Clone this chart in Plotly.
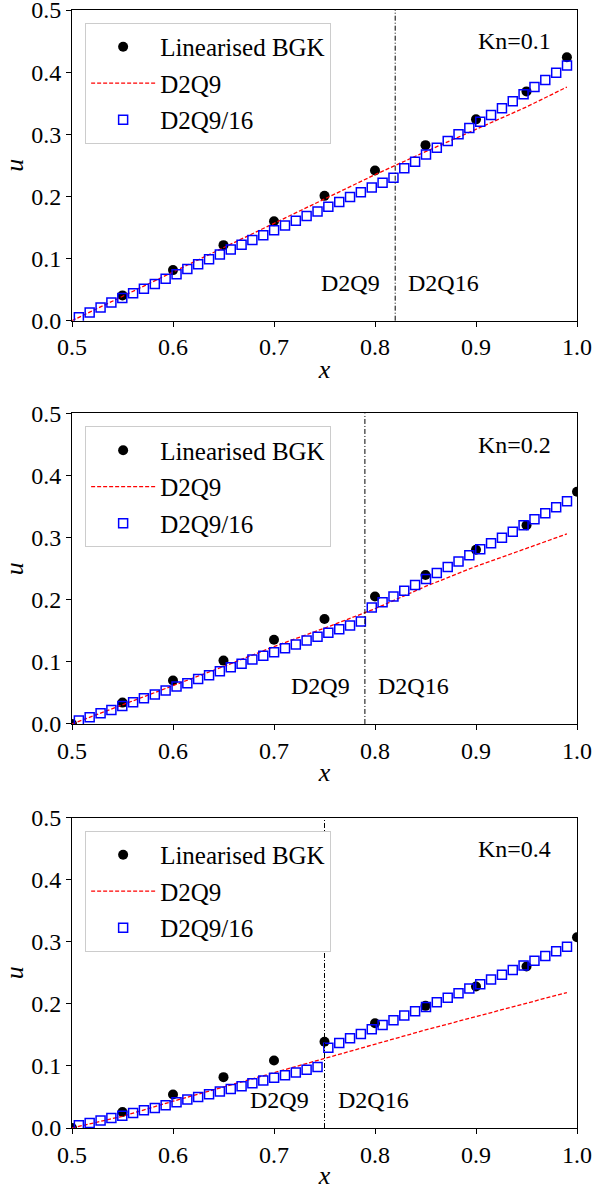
import plotly.graph_objects as go

# ---------------- data ----------------
x_grid = [0.5068, 0.5175, 0.5283, 0.5390, 0.5498, 0.5605, 0.5712, 0.5820, 0.5927, 0.6035,
          0.6142, 0.6249, 0.6357, 0.6464, 0.6572, 0.6679, 0.6786, 0.6894, 0.7001, 0.7109,
          0.7216, 0.7323, 0.7431, 0.7538, 0.7646, 0.7753, 0.7860, 0.7968, 0.8075, 0.8183,
          0.8290, 0.8397, 0.8505, 0.8612, 0.8720, 0.8827, 0.8934, 0.9042, 0.9149, 0.9257,
          0.9364, 0.9471, 0.9579, 0.9686, 0.9794, 0.9901]

u_d2q916_kn01 = [0.0054, 0.0130, 0.0212, 0.0293, 0.0364, 0.0440, 0.0516, 0.0592, 0.0673, 0.0749,
                 0.0831, 0.0907, 0.0988, 0.1064, 0.1145, 0.1221, 0.1298, 0.1374, 0.1455, 0.1531,
                 0.1607, 0.1683, 0.1759, 0.1835, 0.1911, 0.1992, 0.2068, 0.2144, 0.2220, 0.2302,
                 0.2454, 0.2557, 0.2675, 0.2785, 0.2890, 0.3000, 0.3100, 0.3200, 0.3310, 0.3420,
                 0.3530, 0.3645, 0.3760, 0.3875, 0.3990, 0.4105]
u_d2q916_kn02 = [0.0054, 0.0108, 0.0172, 0.0226, 0.0290, 0.0349, 0.0414, 0.0473, 0.0538, 0.0602,
                 0.0656, 0.0726, 0.0785, 0.0849, 0.0914, 0.0968, 0.1038, 0.1097, 0.1156, 0.1220,
                 0.1280, 0.1344, 0.1403, 0.1468, 0.1527, 0.1586, 0.1650, 0.1876, 0.1962, 0.2054,
                 0.2145, 0.2237, 0.2333, 0.2430, 0.2527, 0.2618, 0.2715, 0.2812, 0.2909, 0.3000,
                 0.3097, 0.3199, 0.3296, 0.3392, 0.3489, 0.3586]
u_d2q916_kn04 = [0.0043, 0.0081, 0.0119, 0.0162, 0.0199, 0.0242, 0.0286, 0.0323, 0.0366, 0.0415,
                 0.0458, 0.0501, 0.0544, 0.0587, 0.0630, 0.0673, 0.0722, 0.0765, 0.0808, 0.0851,
                 0.0894, 0.0938, 0.0981, 0.1293, 0.1369, 0.1444, 0.1514, 0.1589, 0.1659, 0.1735,
                 0.1810, 0.1880, 0.1950, 0.2026, 0.2096, 0.2171, 0.2247, 0.2317, 0.2392, 0.2468,
                 0.2543, 0.2619, 0.2694, 0.2769, 0.2845, 0.2920]

x_bgk_kn01 = [0.55, 0.60, 0.65, 0.70, 0.75, 0.80, 0.85, 0.90, 0.95, 0.99]
u_bgk_kn01 = [0.0407, 0.0814, 0.1216, 0.1601, 0.2009, 0.2416, 0.2825, 0.3240, 0.3690, 0.4240]
x_bgk = [0.50, 0.55, 0.60, 0.65, 0.70, 0.75, 0.80, 0.85, 0.90, 0.95, 1.00]
u_bgk_kn02 = [0.0, 0.0344, 0.0699, 0.1020, 0.1355, 0.1690, 0.2054, 0.2400, 0.2806, 0.3200, 0.3740]
u_bgk_kn04 = [0.0, 0.0259, 0.0539, 0.0819, 0.1088, 0.1390, 0.1687, 0.1967, 0.2279, 0.2602, 0.3071]

x_d2q9 = [0.50, 0.55, 0.60, 0.65, 0.70, 0.75, 0.80, 0.85, 0.90, 0.95, 0.99]
u_d2q9_kn01 = [0.0, 0.0390, 0.0780, 0.1170, 0.1560, 0.1960, 0.2350, 0.2720, 0.3080, 0.3440, 0.3760]
u_d2q9_kn02 = [0.0, 0.0306, 0.0613, 0.0925, 0.1247, 0.1543, 0.1855, 0.2215, 0.2538, 0.2833, 0.3060]
u_d2q9_kn04 = [0.0, 0.0189, 0.0431, 0.0663, 0.0889, 0.1121, 0.1347, 0.1579, 0.1794, 0.2010, 0.2182]

kn_labels = ["Kn=0.1", "Kn=0.2", "Kn=0.4"]
switch_x = [0.82, 0.79, 0.75]
x_ticks = [0.5, 0.6, 0.7, 0.8, 0.9, 1.0]
y_ticks = [0.0, 0.1, 0.2, 0.3, 0.4, 0.5]

# ---------------- figure ----------------
FONT = "Liberation Serif"
fig = go.Figure()

panels = [
    (x_bgk_kn01, u_bgk_kn01, u_d2q9_kn01, u_d2q916_kn01),
    (x_bgk, u_bgk_kn02, u_d2q9_kn02, u_d2q916_kn02),
    (x_bgk, u_bgk_kn04, u_d2q9_kn04, u_d2q916_kn04),
]
ydomains = [[0.7221, 1.0], [0.3614, 0.6391], [0.0, 0.2777]]
legend_y = [0.9884, 0.6275, 0.2657]
label_y = [0.061, 0.061, 0.045]

annotations = []
shapes = []
for i, (xb, ub, ud9, ud16) in enumerate(panels):
    n = "" if i == 0 else str(i + 1)
    xa, ya, lg = "x" + n, "y" + n, "legend" + n
    fig.add_trace(go.Scatter(x=xb, y=ub, mode="markers", name="Linearised BGK",
                             marker=dict(color="black", size=10),
                             xaxis=xa, yaxis=ya, legend=lg, legendgroup=f"g{i}a"))
    fig.add_trace(go.Scatter(x=x_d2q9, y=ud9, mode="lines", name="D2Q9",
                             line=dict(color="red", width=1.3, dash="4px,2px"),
                             xaxis=xa, yaxis=ya, legend=lg, legendgroup=f"g{i}b"))
    fig.add_trace(go.Scatter(x=x_grid, y=ud16, mode="markers", name="D2Q9/16",
                             marker=dict(symbol="square-open", color="#0000ff", size=9,
                                         line=dict(width=1.5, color="#0000ff")),
                             xaxis=xa, yaxis=ya, legend=lg, legendgroup=f"g{i}c"))
    axcommon = dict(showline=True, mirror=True, linecolor="black", linewidth=1,
                    ticks="outside", ticklen=5, tickwidth=1, tickcolor="black",
                    showgrid=False, zeroline=False, tickformat=".1f", automargin=False,
                    ticklabeloverflow="allow",
                    tickfont=dict(family=FONT, size=24, color="black"))
    fig.layout["xaxis" + n] = dict(axcommon, range=[0.5, 1.0], tickvals=x_ticks,
                                   anchor=ya, domain=[0, 1],
                                   title=dict(text="<i>x</i>", standoff=0,
                                              font=dict(family=FONT, size=26, color="black")))
    fig.layout["yaxis" + n] = dict(axcommon, range=[0, 0.5], tickvals=y_ticks,
                                   anchor=xa, domain=ydomains[i],
                                   title=dict(text="<i>u</i>", standoff=10,
                                              font=dict(family=FONT, size=26, color="black")))
    fig.layout[lg] = dict(x=0.026, y=legend_y[i], xanchor="left", yanchor="top",
                          bgcolor="white", bordercolor="#cccccc", borderwidth=1,
                          font=dict(family=FONT, size=25, color="black"),
                          itemwidth=64, traceorder="grouped", tracegroupgap=1)
    annotations.append(dict(x=0.938, y=0.45, xref=xa, yref=ya, text=kn_labels[i],
                            showarrow=False, xanchor="center", yanchor="middle",
                            font=dict(family=FONT, size=24, color="black")))
    annotations.append(dict(x=switch_x[i] - 0.013, y=label_y[i], xref=xa, yref=ya, text="D2Q9",
                            showarrow=False, xanchor="right", yanchor="middle",
                            font=dict(family=FONT, size=24, color="black")))
    annotations.append(dict(x=switch_x[i] + 0.011, y=label_y[i], xref=xa, yref=ya, text="D2Q16",
                            showarrow=False, xanchor="left", yanchor="middle",
                            font=dict(family=FONT, size=24, color="black")))
    shapes.append(dict(type="line", xref=xa, yref=ya + " domain", x0=switch_x[i], x1=switch_x[i],
                       y0=0, y1=1, line=dict(color="black", width=1, dash="5px,2px,1px,2px")))

fig.update_layout(width=594, height=1190, margin=dict(l=72, r=17, t=10, b=62),
                  plot_bgcolor="white", paper_bgcolor="white", showlegend=True,
                  annotations=annotations, shapes=shapes,
                  font=dict(family=FONT, size=24, color="black"))
fig.update_xaxes(tickfont=dict(family=FONT, size=24, color="black"))
fig.update_yaxes(tickfont=dict(family=FONT, size=24, color="black"))

fig.write_html("out.html", config={"displayModeBar": False},
               post_script="document.body.style.margin='0';document.body.style.padding='0';"
                           "document.documentElement.style.overflow='hidden';")
